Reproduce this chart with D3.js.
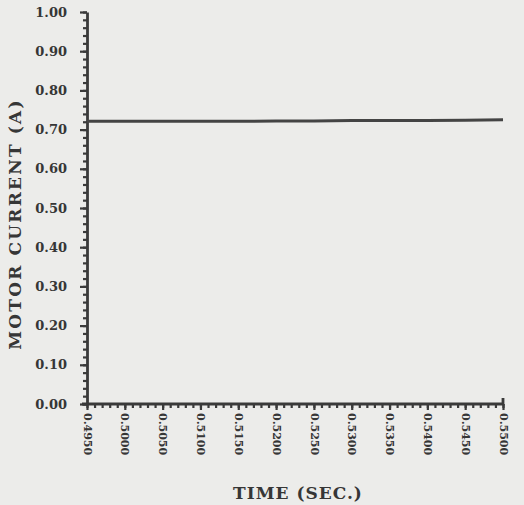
<!DOCTYPE html>
<html>
<head>
<meta charset="utf-8">
<script src="https://cdn.jsdelivr.net/npm/d3@7"></script>
<style>
  body { margin: 0; background: #ececea; }
  #chart-container { width: 524px; height: 505px; }
  .tick text { font-family: "DejaVu Serif", serif; font-weight: bold; fill: #363636; }
  .axis-title { font-family: "DejaVu Serif", serif; font-weight: bold; fill: #363636; }
</style>
</head>
<body>
<div id="chart-container"></div>
<script>
// time (sec.) and motor current (A)
const timeValues = [0.495, 0.500, 0.505, 0.510, 0.515, 0.520, 0.525, 0.530, 0.535, 0.540, 0.545, 0.550];
const currentValues = [0.721, 0.721, 0.721, 0.721, 0.721, 0.722, 0.722, 0.723, 0.723, 0.723, 0.724, 0.725];
const xTickValues = [0.495, 0.500, 0.505, 0.510, 0.515, 0.520, 0.525, 0.530, 0.535, 0.540, 0.545, 0.550];
const yTickValues = [0, 0.1, 0.2, 0.3, 0.4, 0.5, 0.6, 0.7, 0.8, 0.9, 1.0];

const setOptions = () => {
  return {
    outerWidth: 524,
    outerHeight: 505,
    margin: { left: 87, right: 21, top: 12, bottom: 101 },
    ink: '#3a3a3a'
  };
};

const drawChart = () => {
  const options = setOptions();
  const innerWidth = options.outerWidth - options.margin.left - options.margin.right;
  const innerHeight = options.outerHeight - options.margin.top - options.margin.bottom;

  const svg = d3.select('#chart-container').append('svg')
    .attr('width', options.outerWidth)
    .attr('height', options.outerHeight);

  const x = d3.scaleLinear()
    .domain([0.495, 0.55])
    .range([0, innerWidth]);
  const y = d3.scaleLinear()
    .domain([0, 1])
    .range([innerHeight, 0]);

  const g = svg.append('g')
    .attr('transform', 'translate(' + options.margin.left + ',' + options.margin.top + ')');

  //minor ticks first, majors on top
  const xMinor = d3.range(0, 56).map(i => 0.495 + i * 0.001);
  const yMinor = d3.range(0, 51).map(i => i * 0.02);

  g.append('g')
    .attr('transform', 'translate(0,' + innerHeight + ')')
    .call(d3.axisBottom(x).tickValues(xMinor).tickSize(4).tickFormat(''))
    .call(a => a.select('.domain').remove())
    .call(a => a.selectAll('line').attr('stroke', options.ink).attr('stroke-width', 2.2));

  g.append('g')
    .call(d3.axisLeft(y).tickValues(yMinor).tickSize(4).tickFormat(''))
    .call(a => a.select('.domain').remove())
    .call(a => a.selectAll('line').attr('stroke', options.ink).attr('stroke-width', 2.2));

  const xAxis = g.append('g')
    .attr('transform', 'translate(0,' + innerHeight + ')')
    .call(d3.axisBottom(x).tickValues(xTickValues).tickSize(6).tickSizeOuter(0)
      .tickFormat(d3.format('.4f')));
  xAxis.select('.domain').attr('stroke', options.ink).attr('stroke-width', 2.8)
    .attr('d', 'M-5,0H' + innerWidth + 'V-6');
  xAxis.selectAll('line').attr('stroke', options.ink).attr('stroke-width', 2.2);
  xAxis.selectAll('text')
    .style('font-size', '11px')
    .attr('transform', 'rotate(90)')
    .attr('x', 9)
    .attr('y', 0)
    .attr('dy', '0.35em')
    .style('text-anchor', 'start');

  const yAxis = g.append('g')
    .call(d3.axisLeft(y).tickValues(yTickValues).tickSize(7).tickSizeOuter(0)
      .tickFormat(d3.format('.2f')));
  yAxis.select('.domain').attr('stroke', options.ink).attr('stroke-width', 2.8);
  yAxis.selectAll('line').attr('stroke', options.ink).attr('stroke-width', 2.2);
  yAxis.selectAll('text')
    .style('font-size', '13px')
    .attr('x', -20);

  const line = d3.line()
    .x((d, i) => x(timeValues[i]))
    .y(d => y(d));

  g.append('path')
    .attr('fill', 'none')
    .attr('stroke', '#444')
    .attr('stroke-width', 3)
    .attr('d', line(currentValues));

  //axis titles
  svg.append('text')
    .attr('class', 'axis-title')
    .attr('transform', 'translate(15,' + 224 + ') rotate(-90)')
    .attr('text-anchor', 'middle')
    .attr('dy', '0.35em')
    .style('font-size', '17px')
    .style('letter-spacing', '2.2px')
    .text('MOTOR CURRENT (A)');

  svg.append('text')
    .attr('class', 'axis-title')
    .attr('x', 298)
    .attr('y', 499)
    .attr('text-anchor', 'middle')
    .style('font-size', '17px')
    .style('letter-spacing', '1px')
    .text('TIME (SEC.)');
};

drawChart();
</script>
</body>
</html>
